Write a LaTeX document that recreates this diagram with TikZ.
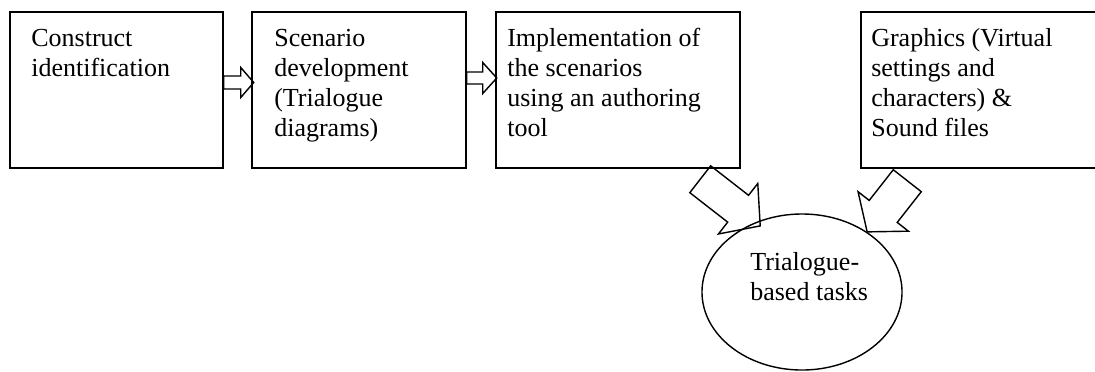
\documentclass[tikz,border=0pt]{standalone}
\usepackage{fontspec}
\setmainfont{Liberation Serif}
\usetikzlibrary{shapes.geometric,calc}

% block arrow: start, angle, shaft half width, shaft length, head half width, head length
\newcommand{\blockarrow}[6]{%
    \begin{scope}[shift={#1}, rotate=#2]
        \draw[line width=1pt, line join=miter] (0,-#3) -- (#4,-#3) -- (#4,-#5) -- ({#4+#6},0)
            -- (#4,#5) -- (#4,#3) -- (0,#3) -- cycle;
    \end{scope}}

\tikzset{
    stage/.style={draw, line width=1pt, rectangle, inner sep=0pt, minimum height=3.9cm},
    stagetext/.style={anchor=north west, inner sep=0pt, align=left,
        font=\fontsize{18.5}{21.3}\selectfont},
}

\begin{document}
\begin{tikzpicture}[x=0.025cm, y=-0.025cm]
        \clip (0,0) rectangle (1095,371);
        \node[stage, minimum width=5.325cm] (construct) at (116.5,90) {};
        \node[stage, minimum width=5.35cm] (scenario) at (359,90) {};
        \node[stage, minimum width=6.1cm] (implement) at (618,90) {};
        \node[stage, minimum width=6.225cm] (graphics) at (985.5,90) {};
        \node[draw, ellipse, line width=1pt, inner sep=0pt, minimum width=5cm, minimum height=3.9cm] (tasks) at (802,292) {};

        \node[stagetext] (constructtext) at (31,25.7) {\strut Construct\\identification};
        \node[stagetext] (scenariotext) at (274,25.7) {\strut Scenario\\development\\(Trialogue\\diagrams)};
        \node[stagetext] (implementtext) at (507,25.7) {\strut Implementation of\\the scenarios\\using an authoring\\tool};
        \node[stagetext] (graphicstext) at (871,25.7) {\strut Graphics (Virtual\\settings and\\characters) \&\\Sound files};
        \node[stagetext] (taskstext) at (750,249) {\strut Trialogue-\\based tasks};

        \blockarrow{($(construct.east)+(0,-7.5)$)}{0}{6.5}{17}{15}{13}
        \blockarrow{($(scenario.east)+(0,-12)$)}{0}{6}{16}{15.5}{14}
        \blockarrow{($(implement.south east)+(-40.5,10.5)$)}{-37.9}{17}{48}{32}{28}
        \blockarrow{($(graphics.south west)+(47,12)$)}{-128.1}{17.8}{39}{32}{26}
    \end{tikzpicture}
\end{document}
